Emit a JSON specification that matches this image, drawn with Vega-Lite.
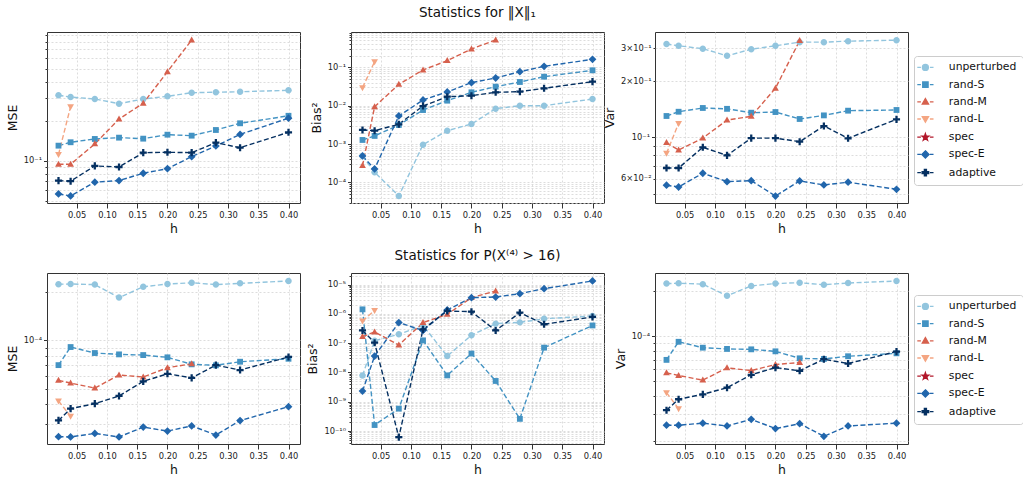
{
  "$schema": "https://vega.github.io/schema/vega-lite/v6.json",
  "padding": 5,
  "datasets": {
    "legendnames": [{"name": "unperturbed"}, {"name": "rand-S"}, {"name": "rand-M"}, {"name": "rand-L"}, {"name": "spec"}, {"name": "spec-E"}, {"name": "adaptive"}],
    "mse1": [
      {"method": "unperturbed", "h": 0.02, "value": 0.315}, {"method": "unperturbed", "h": 0.04, "value": 0.305}, {"method": "unperturbed", "h": 0.08, "value": 0.295}, {"method": "unperturbed", "h": 0.12, "value": 0.272}, {"method": "unperturbed", "h": 0.16, "value": 0.295}, {"method": "unperturbed", "h": 0.2, "value": 0.309}, {"method": "unperturbed", "h": 0.24, "value": 0.329}, {"method": "unperturbed", "h": 0.28, "value": 0.332}, {"method": "unperturbed", "h": 0.32, "value": 0.335}, {"method": "unperturbed", "h": 0.4, "value": 0.343},
      {"method": "rand-S", "h": 0.02, "value": 0.1306}, {"method": "rand-S", "h": 0.04, "value": 0.1386}, {"method": "rand-S", "h": 0.08, "value": 0.1468}, {"method": "rand-S", "h": 0.12, "value": 0.1502}, {"method": "rand-S", "h": 0.16, "value": 0.1476}, {"method": "rand-S", "h": 0.2, "value": 0.1582}, {"method": "rand-S", "h": 0.24, "value": 0.1555}, {"method": "rand-S", "h": 0.28, "value": 0.1717}, {"method": "rand-S", "h": 0.32, "value": 0.193}, {"method": "rand-S", "h": 0.4, "value": 0.22},
      {"method": "rand-M", "h": 0.02, "value": 0.0944}, {"method": "rand-M", "h": 0.04, "value": 0.0944}, {"method": "rand-M", "h": 0.08, "value": 0.1346}, {"method": "rand-M", "h": 0.12, "value": 0.208}, {"method": "rand-M", "h": 0.16, "value": 0.274}, {"method": "rand-M", "h": 0.2, "value": 0.475}, {"method": "rand-M", "h": 0.24, "value": 0.826},
      {"method": "rand-L", "h": 0.02, "value": 0.112}, {"method": "rand-L", "h": 0.04, "value": 0.258},
      {"method": "spec-E", "h": 0.02, "value": 0.0562}, {"method": "spec-E", "h": 0.04, "value": 0.0543}, {"method": "spec-E", "h": 0.08, "value": 0.069}, {"method": "spec-E", "h": 0.12, "value": 0.071}, {"method": "spec-E", "h": 0.16, "value": 0.0807}, {"method": "spec-E", "h": 0.2, "value": 0.0874}, {"method": "spec-E", "h": 0.24, "value": 0.1078}, {"method": "spec-E", "h": 0.28, "value": 0.13}, {"method": "spec-E", "h": 0.32, "value": 0.159}, {"method": "spec-E", "h": 0.4, "value": 0.211},
      {"method": "adaptive", "h": 0.02, "value": 0.071}, {"method": "adaptive", "h": 0.04, "value": 0.0702}, {"method": "adaptive", "h": 0.08, "value": 0.0917}, {"method": "adaptive", "h": 0.12, "value": 0.09}, {"method": "adaptive", "h": 0.16, "value": 0.1156}, {"method": "adaptive", "h": 0.2, "value": 0.1163}, {"method": "adaptive", "h": 0.24, "value": 0.1156}, {"method": "adaptive", "h": 0.28, "value": 0.1376}, {"method": "adaptive", "h": 0.32, "value": 0.126}, {"method": "adaptive", "h": 0.4, "value": 0.165}
    ],
    "bias1": [
      {"method": "unperturbed", "h": 0.02, "value": 0.00049}, {"method": "unperturbed", "h": 0.04, "value": 0.000184}, {"method": "unperturbed", "h": 0.08, "value": 0.0000445}, {"method": "unperturbed", "h": 0.12, "value": 0.000965}, {"method": "unperturbed", "h": 0.16, "value": 0.00223}, {"method": "unperturbed", "h": 0.2, "value": 0.00333}, {"method": "unperturbed", "h": 0.24, "value": 0.00835}, {"method": "unperturbed", "h": 0.28, "value": 0.01}, {"method": "unperturbed", "h": 0.32, "value": 0.01}, {"method": "unperturbed", "h": 0.4, "value": 0.0149},
      {"method": "rand-S", "h": 0.02, "value": 0.00128}, {"method": "rand-S", "h": 0.04, "value": 0.00163}, {"method": "rand-S", "h": 0.08, "value": 0.00314}, {"method": "rand-S", "h": 0.12, "value": 0.0077}, {"method": "rand-S", "h": 0.16, "value": 0.0135}, {"method": "rand-S", "h": 0.2, "value": 0.0223}, {"method": "rand-S", "h": 0.24, "value": 0.0313}, {"method": "rand-S", "h": 0.28, "value": 0.0414}, {"method": "rand-S", "h": 0.32, "value": 0.0569}, {"method": "rand-S", "h": 0.4, "value": 0.0835},
      {"method": "rand-M", "h": 0.02, "value": 0.000274}, {"method": "rand-M", "h": 0.04, "value": 0.0094}, {"method": "rand-M", "h": 0.08, "value": 0.036}, {"method": "rand-M", "h": 0.12, "value": 0.085}, {"method": "rand-M", "h": 0.16, "value": 0.149}, {"method": "rand-M", "h": 0.2, "value": 0.3}, {"method": "rand-M", "h": 0.24, "value": 0.514},
      {"method": "rand-L", "h": 0.02, "value": 0.0294}, {"method": "rand-L", "h": 0.04, "value": 0.14},
      {"method": "spec-E", "h": 0.02, "value": 0.00049}, {"method": "spec-E", "h": 0.04, "value": 0.000225}, {"method": "spec-E", "h": 0.08, "value": 0.0054}, {"method": "spec-E", "h": 0.12, "value": 0.0141}, {"method": "spec-E", "h": 0.16, "value": 0.0228}, {"method": "spec-E", "h": 0.2, "value": 0.0398}, {"method": "spec-E", "h": 0.24, "value": 0.0526}, {"method": "spec-E", "h": 0.28, "value": 0.077}, {"method": "spec-E", "h": 0.32, "value": 0.106}, {"method": "spec-E", "h": 0.4, "value": 0.161},
      {"method": "adaptive", "h": 0.02, "value": 0.00233}, {"method": "adaptive", "h": 0.04, "value": 0.00223}, {"method": "adaptive", "h": 0.08, "value": 0.00328}, {"method": "adaptive", "h": 0.12, "value": 0.0098}, {"method": "adaptive", "h": 0.16, "value": 0.0171}, {"method": "adaptive", "h": 0.2, "value": 0.0182}, {"method": "adaptive", "h": 0.24, "value": 0.0223}, {"method": "adaptive", "h": 0.28, "value": 0.0232}, {"method": "adaptive", "h": 0.32, "value": 0.0284}, {"method": "adaptive", "h": 0.4, "value": 0.0422}
    ],
    "var1": [
      {"method": "unperturbed", "h": 0.02, "value": 0.3155}, {"method": "unperturbed", "h": 0.04, "value": 0.309}, {"method": "unperturbed", "h": 0.08, "value": 0.298}, {"method": "unperturbed", "h": 0.12, "value": 0.273}, {"method": "unperturbed", "h": 0.16, "value": 0.296}, {"method": "unperturbed", "h": 0.2, "value": 0.309}, {"method": "unperturbed", "h": 0.24, "value": 0.323}, {"method": "unperturbed", "h": 0.28, "value": 0.323}, {"method": "unperturbed", "h": 0.32, "value": 0.327}, {"method": "unperturbed", "h": 0.4, "value": 0.331},
      {"method": "rand-S", "h": 0.02, "value": 0.13}, {"method": "rand-S", "h": 0.04, "value": 0.137}, {"method": "rand-S", "h": 0.08, "value": 0.1435}, {"method": "rand-S", "h": 0.12, "value": 0.142}, {"method": "rand-S", "h": 0.16, "value": 0.1354}, {"method": "rand-S", "h": 0.2, "value": 0.1365}, {"method": "rand-S", "h": 0.24, "value": 0.1253}, {"method": "rand-S", "h": 0.28, "value": 0.131}, {"method": "rand-S", "h": 0.32, "value": 0.1388}, {"method": "rand-S", "h": 0.4, "value": 0.14},
      {"method": "rand-M", "h": 0.02, "value": 0.0936}, {"method": "rand-M", "h": 0.04, "value": 0.0855}, {"method": "rand-M", "h": 0.08, "value": 0.099}, {"method": "rand-M", "h": 0.12, "value": 0.1237}, {"method": "rand-M", "h": 0.16, "value": 0.1295}, {"method": "rand-M", "h": 0.2, "value": 0.183}, {"method": "rand-M", "h": 0.24, "value": 0.329},
      {"method": "rand-L", "h": 0.02, "value": 0.0821}, {"method": "rand-L", "h": 0.04, "value": 0.1188},
      {"method": "spec-E", "h": 0.02, "value": 0.0554}, {"method": "spec-E", "h": 0.04, "value": 0.0542}, {"method": "spec-E", "h": 0.08, "value": 0.0642}, {"method": "spec-E", "h": 0.12, "value": 0.0579}, {"method": "spec-E", "h": 0.16, "value": 0.0586}, {"method": "spec-E", "h": 0.2, "value": 0.0485}, {"method": "spec-E", "h": 0.24, "value": 0.0584}, {"method": "spec-E", "h": 0.28, "value": 0.0556}, {"method": "spec-E", "h": 0.32, "value": 0.0575}, {"method": "spec-E", "h": 0.4, "value": 0.0527},
      {"method": "adaptive", "h": 0.02, "value": 0.0685}, {"method": "adaptive", "h": 0.04, "value": 0.0685}, {"method": "adaptive", "h": 0.08, "value": 0.0884}, {"method": "adaptive", "h": 0.12, "value": 0.08}, {"method": "adaptive", "h": 0.16, "value": 0.099}, {"method": "adaptive", "h": 0.2, "value": 0.099}, {"method": "adaptive", "h": 0.24, "value": 0.0947}, {"method": "adaptive", "h": 0.28, "value": 0.1149}, {"method": "adaptive", "h": 0.32, "value": 0.0988}, {"method": "adaptive", "h": 0.4, "value": 0.1248}
    ],
    "mse2": [
      {"method": "unperturbed", "h": 0.02, "value": 2.24e-4}, {"method": "unperturbed", "h": 0.04, "value": 2.25e-4}, {"method": "unperturbed", "h": 0.08, "value": 2.23e-4}, {"method": "unperturbed", "h": 0.12, "value": 1.85e-4}, {"method": "unperturbed", "h": 0.16, "value": 2.16e-4}, {"method": "unperturbed", "h": 0.2, "value": 2.25e-4}, {"method": "unperturbed", "h": 0.24, "value": 2.29e-4}, {"method": "unperturbed", "h": 0.28, "value": 2.23e-4}, {"method": "unperturbed", "h": 0.32, "value": 2.27e-4}, {"method": "unperturbed", "h": 0.4, "value": 2.35e-4},
      {"method": "rand-S", "h": 0.02, "value": 7.0e-5}, {"method": "rand-S", "h": 0.04, "value": 9.08e-5}, {"method": "rand-S", "h": 0.08, "value": 8.33e-5}, {"method": "rand-S", "h": 0.12, "value": 8.17e-5}, {"method": "rand-S", "h": 0.16, "value": 8.09e-5}, {"method": "rand-S", "h": 0.2, "value": 7.83e-5}, {"method": "rand-S", "h": 0.24, "value": 7.08e-5}, {"method": "rand-S", "h": 0.28, "value": 6.98e-5}, {"method": "rand-S", "h": 0.32, "value": 7.35e-5}, {"method": "rand-S", "h": 0.4, "value": 7.67e-5},
      {"method": "rand-M", "h": 0.02, "value": 5.62e-5}, {"method": "rand-M", "h": 0.04, "value": 5.41e-5}, {"method": "rand-M", "h": 0.08, "value": 5.03e-5}, {"method": "rand-M", "h": 0.12, "value": 6.07e-5}, {"method": "rand-M", "h": 0.16, "value": 5.9e-5}, {"method": "rand-M", "h": 0.2, "value": 6.74e-5}, {"method": "rand-M", "h": 0.24, "value": 7.14e-5},
      {"method": "rand-L", "h": 0.02, "value": 4.18e-5}, {"method": "rand-L", "h": 0.04, "value": 3.36e-5},
      {"method": "spec-E", "h": 0.02, "value": 2.5e-5}, {"method": "spec-E", "h": 0.04, "value": 2.49e-5}, {"method": "spec-E", "h": 0.08, "value": 2.62e-5}, {"method": "spec-E", "h": 0.12, "value": 2.49e-5}, {"method": "spec-E", "h": 0.16, "value": 2.87e-5}, {"method": "spec-E", "h": 0.2, "value": 2.71e-5}, {"method": "spec-E", "h": 0.24, "value": 2.92e-5}, {"method": "spec-E", "h": 0.28, "value": 2.56e-5}, {"method": "spec-E", "h": 0.32, "value": 3.15e-5}, {"method": "spec-E", "h": 0.4, "value": 3.85e-5},
      {"method": "adaptive", "h": 0.02, "value": 3.16e-5}, {"method": "adaptive", "h": 0.04, "value": 3.74e-5}, {"method": "adaptive", "h": 0.08, "value": 4.02e-5}, {"method": "adaptive", "h": 0.12, "value": 4.49e-5}, {"method": "adaptive", "h": 0.16, "value": 5.54e-5}, {"method": "adaptive", "h": 0.2, "value": 6.18e-5}, {"method": "adaptive", "h": 0.24, "value": 5.83e-5}, {"method": "adaptive", "h": 0.28, "value": 7.0e-5}, {"method": "adaptive", "h": 0.32, "value": 6.52e-5}, {"method": "adaptive", "h": 0.4, "value": 7.87e-5}
    ],
    "bias2": [
      {"method": "unperturbed", "h": 0.02, "value": 7.9e-9}, {"method": "unperturbed", "h": 0.04, "value": 1.2e-7}, {"method": "unperturbed", "h": 0.08, "value": 2.0e-7}, {"method": "unperturbed", "h": 0.12, "value": 4.0e-7}, {"method": "unperturbed", "h": 0.16, "value": 3.6e-8}, {"method": "unperturbed", "h": 0.2, "value": 1.85e-7}, {"method": "unperturbed", "h": 0.24, "value": 4.6e-7}, {"method": "unperturbed", "h": 0.28, "value": 5.1e-7}, {"method": "unperturbed", "h": 0.32, "value": 6.8e-7}, {"method": "unperturbed", "h": 0.4, "value": 8.4e-7},
      {"method": "rand-S", "h": 0.02, "value": 1.42e-6}, {"method": "rand-S", "h": 0.04, "value": 1.6e-10}, {"method": "rand-S", "h": 0.08, "value": 5.8e-10}, {"method": "rand-S", "h": 0.12, "value": 1.24e-7}, {"method": "rand-S", "h": 0.16, "value": 7.9e-9}, {"method": "rand-S", "h": 0.2, "value": 4.4e-8}, {"method": "rand-S", "h": 0.24, "value": 5.1e-9}, {"method": "rand-S", "h": 0.28, "value": 2.6e-10}, {"method": "rand-S", "h": 0.32, "value": 7.0e-8}, {"method": "rand-S", "h": 0.4, "value": 4.0e-7},
      {"method": "rand-M", "h": 0.02, "value": 1.66e-7}, {"method": "rand-M", "h": 0.04, "value": 2.4e-7}, {"method": "rand-M", "h": 0.08, "value": 8.6e-8}, {"method": "rand-M", "h": 0.12, "value": 5.0e-7}, {"method": "rand-M", "h": 0.16, "value": 9.6e-7}, {"method": "rand-M", "h": 0.2, "value": 3.55e-6}, {"method": "rand-M", "h": 0.24, "value": 6.0e-6},
      {"method": "rand-L", "h": 0.02, "value": 5.7e-7}, {"method": "rand-L", "h": 0.04, "value": 1.3e-6},
      {"method": "spec-E", "h": 0.02, "value": 2.3e-9}, {"method": "spec-E", "h": 0.04, "value": 3.6e-8}, {"method": "spec-E", "h": 0.08, "value": 5.0e-7}, {"method": "spec-E", "h": 0.12, "value": 2.7e-7}, {"method": "spec-E", "h": 0.16, "value": 1.35e-6}, {"method": "spec-E", "h": 0.2, "value": 3.55e-6}, {"method": "spec-E", "h": 0.24, "value": 3.74e-6}, {"method": "spec-E", "h": 0.28, "value": 4.86e-6}, {"method": "spec-E", "h": 0.32, "value": 7.2e-6}, {"method": "spec-E", "h": 0.4, "value": 1.32e-5},
      {"method": "adaptive", "h": 0.02, "value": 2.7e-7}, {"method": "adaptive", "h": 0.04, "value": 1.03e-7}, {"method": "adaptive", "h": 0.08, "value": 6.2e-11}, {"method": "adaptive", "h": 0.12, "value": 2.95e-7}, {"method": "adaptive", "h": 0.16, "value": 1.25e-6}, {"method": "adaptive", "h": 0.2, "value": 1.18e-6}, {"method": "adaptive", "h": 0.24, "value": 2.7e-7}, {"method": "adaptive", "h": 0.28, "value": 1.09e-6}, {"method": "adaptive", "h": 0.32, "value": 4.4e-7}, {"method": "adaptive", "h": 0.4, "value": 7.8e-7}
    ],
    "var2": [
      {"method": "unperturbed", "h": 0.02, "value": 2.26e-4}, {"method": "unperturbed", "h": 0.04, "value": 2.27e-4}, {"method": "unperturbed", "h": 0.08, "value": 2.24e-4}, {"method": "unperturbed", "h": 0.12, "value": 1.87e-4}, {"method": "unperturbed", "h": 0.16, "value": 2.18e-4}, {"method": "unperturbed", "h": 0.2, "value": 2.26e-4}, {"method": "unperturbed", "h": 0.24, "value": 2.29e-4}, {"method": "unperturbed", "h": 0.28, "value": 2.22e-4}, {"method": "unperturbed", "h": 0.32, "value": 2.28e-4}, {"method": "unperturbed", "h": 0.4, "value": 2.35e-4},
      {"method": "rand-S", "h": 0.02, "value": 6.96e-5}, {"method": "rand-S", "h": 0.04, "value": 9.2e-5}, {"method": "rand-S", "h": 0.08, "value": 8.4e-5}, {"method": "rand-S", "h": 0.12, "value": 8.24e-5}, {"method": "rand-S", "h": 0.16, "value": 8.19e-5}, {"method": "rand-S", "h": 0.2, "value": 7.94e-5}, {"method": "rand-S", "h": 0.24, "value": 7.13e-5}, {"method": "rand-S", "h": 0.28, "value": 7.06e-5}, {"method": "rand-S", "h": 0.32, "value": 7.36e-5}, {"method": "rand-S", "h": 0.4, "value": 7.7e-5},
      {"method": "rand-M", "h": 0.02, "value": 5.7e-5}, {"method": "rand-M", "h": 0.04, "value": 5.47e-5}, {"method": "rand-M", "h": 0.08, "value": 5.09e-5}, {"method": "rand-M", "h": 0.12, "value": 6.15e-5}, {"method": "rand-M", "h": 0.16, "value": 5.9e-5}, {"method": "rand-M", "h": 0.2, "value": 6.48e-5}, {"method": "rand-M", "h": 0.24, "value": 6.68e-5},
      {"method": "rand-L", "h": 0.02, "value": 4.2e-5}, {"method": "rand-L", "h": 0.04, "value": 3.28e-5},
      {"method": "spec-E", "h": 0.02, "value": 2.54e-5}, {"method": "spec-E", "h": 0.04, "value": 2.54e-5}, {"method": "spec-E", "h": 0.08, "value": 2.62e-5}, {"method": "spec-E", "h": 0.12, "value": 2.51e-5}, {"method": "spec-E", "h": 0.16, "value": 2.78e-5}, {"method": "spec-E", "h": 0.2, "value": 2.41e-5}, {"method": "spec-E", "h": 0.24, "value": 2.6e-5}, {"method": "spec-E", "h": 0.28, "value": 2.14e-5}, {"method": "spec-E", "h": 0.32, "value": 2.51e-5}, {"method": "spec-E", "h": 0.4, "value": 2.62e-5},
      {"method": "adaptive", "h": 0.02, "value": 3.2e-5}, {"method": "adaptive", "h": 0.04, "value": 3.79e-5}, {"method": "adaptive", "h": 0.08, "value": 4.09e-5}, {"method": "adaptive", "h": 0.12, "value": 4.53e-5}, {"method": "adaptive", "h": 0.16, "value": 5.53e-5}, {"method": "adaptive", "h": 0.2, "value": 6.18e-5}, {"method": "adaptive", "h": 0.24, "value": 5.88e-5}, {"method": "adaptive", "h": 0.28, "value": 7.03e-5}, {"method": "adaptive", "h": 0.32, "value": 6.58e-5}, {"method": "adaptive", "h": 0.4, "value": 7.91e-5}
    ]
  },
  "vconcat": [
    {
      "hconcat": [
        {
          "width": 253, "height": 171,
          "data": {"name": "mse1"},
          "encoding": {
            "x": {"field": "h", "type": "quantitative", "scale": {"domain": [0.001, 0.419], "nice": false, "zero": false}, "axis": {"title": "h", "values": [0.05, 0.1, 0.15, 0.2, 0.25, 0.3, 0.35, 0.4], "format": ".2f"}},
            "y": {"field": "value", "type": "quantitative", "scale": {"type": "log", "domain": [0.048, 0.95], "nice": false}, "axis": {"title": "MSE", "values": [0.05, 0.06, 0.07, 0.08, 0.09, 0.1, 0.2, 0.3, 0.4, 0.5, 0.6, 0.7, 0.8, 0.9], "labelExpr": "datum.value == 0.1 ? '10⁻¹' : ''", "tickSize": {"condition": {"test": "datum.value == 0.1", "value": 3.5}, "value": 2}}},
            "color": {"field": "method", "type": "nominal", "scale": {"domain": ["unperturbed", "rand-S", "rand-M", "rand-L", "spec", "spec-E", "adaptive"], "range": ["#92c5de", "#4393c3", "#d6604d", "#f4a582", "#b2182b", "#2166ac", "#053061"]}, "legend": null}
          },
          "layer": [
            {"mark": {"type": "line", "strokeDash": [5, 2.5], "strokeWidth": 1.4}},
            {"mark": {"type": "point", "filled": true, "size": 42, "opacity": 1}, "encoding": {"shape": {"field": "method", "type": "nominal", "scale": {"domain": ["unperturbed", "rand-S", "rand-M", "rand-L", "spec", "spec-E", "adaptive"], "range": ["M-1,0A1,1 0 1,0 1,0A1,1 0 1,0 -1,0Z", "M-0.9,-0.9L0.9,-0.9L0.9,0.9L-0.9,0.9Z", "M0,-1.1L1.05,0.75L-1.05,0.75Z", "M0,1.1L1.05,-0.75L-1.05,-0.75Z", "M0,-1.2L0.282,-0.388L1.141,-0.371L0.456,0.148L0.706,0.971L0,0.48L-0.706,0.971L-0.456,0.148L-1.141,-0.371L-0.282,-0.388Z", "M0,-1.2L1.2,0L0,1.2L-1.2,0Z", "M-0.35,-1.1L0.35,-1.1L0.35,-0.35L1.1,-0.35L1.1,0.35L0.35,0.35L0.35,1.1L-0.35,1.1L-0.35,0.35L-1.1,0.35L-1.1,-0.35L-0.35,-0.35Z"]}, "legend": null}}}
          ]
        },
        {
          "width": 253, "height": 171,
          "title": {"text": "Statistics for ‖X‖₁"},
          "data": {"name": "bias1"},
          "encoding": {
            "x": {"field": "h", "type": "quantitative", "scale": {"domain": [0.001, 0.419], "nice": false, "zero": false}, "axis": {"title": "h", "values": [0.05, 0.1, 0.15, 0.2, 0.25, 0.3, 0.35, 0.4], "format": ".2f"}},
            "y": {"field": "value", "type": "quantitative", "scale": {"type": "log", "domain": [2.92e-5, 0.83], "nice": false}, "axis": {"title": "Bias²", "values": [3e-5, 4e-5, 5e-5, 6e-5, 7e-5, 8e-5, 9e-5, 1e-4, 2e-4, 3e-4, 4e-4, 5e-4, 6e-4, 7e-4, 8e-4, 9e-4, 1e-3, 2e-3, 3e-3, 4e-3, 5e-3, 6e-3, 7e-3, 8e-3, 9e-3, 1e-2, 2e-2, 3e-2, 4e-2, 5e-2, 6e-2, 7e-2, 8e-2, 9e-2, 0.1, 0.2, 0.3, 0.4, 0.5, 0.6, 0.7, 0.8], "labelExpr": "datum.value == 0.1 ? '10⁻¹' : datum.value == 0.01 ? '10⁻²' : datum.value == 0.001 ? '10⁻³' : datum.value == 0.0001 ? '10⁻⁴' : ''", "tickSize": {"condition": {"test": "abs(log(datum.value)/LN10 - round(log(datum.value)/LN10)) < 0.001", "value": 3.5}, "value": 2}}},
            "color": {"field": "method", "type": "nominal", "scale": {"domain": ["unperturbed", "rand-S", "rand-M", "rand-L", "spec", "spec-E", "adaptive"], "range": ["#92c5de", "#4393c3", "#d6604d", "#f4a582", "#b2182b", "#2166ac", "#053061"]}, "legend": null}
          },
          "layer": [
            {"mark": {"type": "line", "strokeDash": [5, 2.5], "strokeWidth": 1.4}},
            {"mark": {"type": "point", "filled": true, "size": 42, "opacity": 1}, "encoding": {"shape": {"field": "method", "type": "nominal", "scale": {"domain": ["unperturbed", "rand-S", "rand-M", "rand-L", "spec", "spec-E", "adaptive"], "range": ["M-1,0A1,1 0 1,0 1,0A1,1 0 1,0 -1,0Z", "M-0.9,-0.9L0.9,-0.9L0.9,0.9L-0.9,0.9Z", "M0,-1.1L1.05,0.75L-1.05,0.75Z", "M0,1.1L1.05,-0.75L-1.05,-0.75Z", "M0,-1.2L0.282,-0.388L1.141,-0.371L0.456,0.148L0.706,0.971L0,0.48L-0.706,0.971L-0.456,0.148L-1.141,-0.371L-0.282,-0.388Z", "M0,-1.2L1.2,0L0,1.2L-1.2,0Z", "M-0.35,-1.1L0.35,-1.1L0.35,-0.35L1.1,-0.35L1.1,0.35L0.35,0.35L0.35,1.1L-0.35,1.1L-0.35,0.35L-1.1,0.35L-1.1,-0.35L-0.35,-0.35Z"]}, "legend": null}}}
          ]
        },
        {
          "width": 253, "height": 171,
          "resolve": {"scale": {"shape": "independent", "color": "independent", "fill": "independent", "stroke": "independent"}},
          "layer": [
            {
              "data": {"name": "var1"},
              "encoding": {
                "x": {"field": "h", "type": "quantitative", "scale": {"domain": [0.001, 0.419], "nice": false, "zero": false}, "axis": {"title": "h", "values": [0.05, 0.1, 0.15, 0.2, 0.25, 0.3, 0.35, 0.4], "format": ".2f"}},
                "y": {"field": "value", "type": "quantitative", "scale": {"type": "log", "domain": [0.0445, 0.366], "nice": false}, "axis": {"title": "Var", "values": [0.05, 0.06, 0.07, 0.08, 0.09, 0.1, 0.2, 0.3], "labelExpr": "datum.value == 0.1 ? '10⁻¹' : datum.value == 0.2 ? '2×10⁻¹' : datum.value == 0.3 ? '3×10⁻¹' : datum.value == 0.06 ? '6×10⁻²' : ''", "tickSize": {"condition": {"test": "datum.value == 0.1", "value": 3.5}, "value": 2}}},
                "color": {"field": "method", "type": "nominal", "scale": {"domain": ["unperturbed", "rand-S", "rand-M", "rand-L", "spec", "spec-E", "adaptive"], "range": ["#92c5de", "#4393c3", "#d6604d", "#f4a582", "#b2182b", "#2166ac", "#053061"]}, "legend": null}
              },
              "layer": [
                {"mark": {"type": "line", "strokeDash": [5, 2.5], "strokeWidth": 1.4}},
                {"mark": {"type": "point", "filled": true, "size": 42, "opacity": 1}, "encoding": {"shape": {"field": "method", "type": "nominal", "scale": {"domain": ["unperturbed", "rand-S", "rand-M", "rand-L", "spec", "spec-E", "adaptive"], "range": ["M-1,0A1,1 0 1,0 1,0A1,1 0 1,0 -1,0Z", "M-0.9,-0.9L0.9,-0.9L0.9,0.9L-0.9,0.9Z", "M0,-1.1L1.05,0.75L-1.05,0.75Z", "M0,1.1L1.05,-0.75L-1.05,-0.75Z", "M0,-1.2L0.282,-0.388L1.141,-0.371L0.456,0.148L0.706,0.971L0,0.48L-0.706,0.971L-0.456,0.148L-1.141,-0.371L-0.282,-0.388Z", "M0,-1.2L1.2,0L0,1.2L-1.2,0Z", "M-0.35,-1.1L0.35,-1.1L0.35,-0.35L1.1,-0.35L1.1,0.35L0.35,0.35L0.35,1.1L-0.35,1.1L-0.35,0.35L-1.1,0.35L-1.1,-0.35L-0.35,-0.35Z"]}, "legend": null}}}
              ]
            },
            {
              "data": {"name": "legendnames"},
              "transform": [{"filter": "false"}],
              "mark": {"type": "point", "filled": true},
              "encoding": {
                "fill": {"field": "name", "type": "nominal", "scale": {"domain": ["unperturbed", "rand-S", "rand-M", "rand-L", "spec", "spec-E", "adaptive"], "range": ["#92c5de", "#4393c3", "#d6604d", "#f4a582", "#b2182b", "#2166ac", "#053061"]}, "legend": {"title": null, "orient": "none", "legendX": 259, "legendY": 24, "symbolSize": 36, "symbolOpacity": 1, "symbolStrokeWidth": 1.3, "labelFontSize": 10.8, "labelFont": "DejaVu Sans", "labelColor": "#111111", "labelOffset": 18, "rowPadding": 5.2, "padding": 6, "strokeColor": "#cccccc", "fillColor": "#ffffff", "cornerRadius": 3}},
                "stroke": {"field": "name", "type": "nominal", "scale": {"domain": ["unperturbed", "rand-S", "rand-M", "rand-L", "spec", "spec-E", "adaptive"], "range": ["#92c5de", "#4393c3", "#d6604d", "#f4a582", "#b2182b", "#2166ac", "#053061"]}, "legend": {"title": null, "orient": "none", "legendX": 259, "legendY": 24, "symbolSize": 36, "symbolOpacity": 1, "symbolStrokeWidth": 1.3, "labelFontSize": 10.8, "labelFont": "DejaVu Sans", "labelColor": "#111111", "labelOffset": 18, "rowPadding": 5.2, "padding": 6, "strokeColor": "#cccccc", "fillColor": "#ffffff", "cornerRadius": 3}},
                "shape": {"field": "name", "type": "nominal", "scale": {"domain": ["unperturbed", "rand-S", "rand-M", "rand-L", "spec", "spec-E", "adaptive"], "range": ["M-2.7,0L-1.5,0M1.5,0L2.7,0M-1,0A1,1 0 1,0 1,0A1,1 0 1,0 -1,0Z", "M-2.7,0L-1.5,0M1.5,0L2.7,0M-0.9,-0.9L0.9,-0.9L0.9,0.9L-0.9,0.9Z", "M-2.7,0L-1.5,0M1.5,0L2.7,0M0,-1.1L1.05,0.75L-1.05,0.75Z", "M-2.7,0L-1.5,0M1.5,0L2.7,0M0,1.1L1.05,-0.75L-1.05,-0.75Z", "M-2.7,0L-1.5,0M1.5,0L2.7,0M0,-1.2L0.282,-0.388L1.141,-0.371L0.456,0.148L0.706,0.971L0,0.48L-0.706,0.971L-0.456,0.148L-1.141,-0.371L-0.282,-0.388Z", "M-2.7,0L-1.5,0M1.5,0L2.7,0M0,-1.2L1.2,0L0,1.2L-1.2,0Z", "M-2.7,0L-1.5,0M1.5,0L2.7,0M-0.35,-1.1L0.35,-1.1L0.35,-0.35L1.1,-0.35L1.1,0.35L0.35,0.35L0.35,1.1L-0.35,1.1L-0.35,0.35L-1.1,0.35L-1.1,-0.35L-0.35,-0.35Z"]}, "legend": {"title": null, "orient": "none", "legendX": 259, "legendY": 24, "symbolSize": 36, "symbolOpacity": 1, "symbolStrokeWidth": 1.3, "labelFontSize": 10.8, "labelFont": "DejaVu Sans", "labelColor": "#111111", "labelOffset": 18, "rowPadding": 5.2, "padding": 6, "strokeColor": "#cccccc", "fillColor": "#ffffff", "cornerRadius": 3}}
              }
            }
          ]
        }
      ],
      "spacing": 51,
      "bounds": "flush",
      "resolve": {"scale": {"shape": "independent", "color": "independent", "fill": "independent", "stroke": "independent"}}
    },
    {
      "hconcat": [
        {
          "width": 253, "height": 171,
          "data": {"name": "mse2"},
          "encoding": {
            "x": {"field": "h", "type": "quantitative", "scale": {"domain": [0.001, 0.419], "nice": false, "zero": false}, "axis": {"title": "h", "values": [0.05, 0.1, 0.15, 0.2, 0.25, 0.3, 0.35, 0.4], "format": ".2f"}},
            "y": {"field": "value", "type": "quantitative", "scale": {"type": "log", "domain": [2.25e-5, 2.635e-4], "nice": false}, "axis": {"title": "MSE", "values": [3e-5, 4e-5, 5e-5, 6e-5, 7e-5, 8e-5, 9e-5, 1e-4, 2e-4], "labelExpr": "datum.value == 0.0001 ? '10⁻⁴' : ''", "tickSize": {"condition": {"test": "datum.value == 0.0001", "value": 3.5}, "value": 2}}},
            "color": {"field": "method", "type": "nominal", "scale": {"domain": ["unperturbed", "rand-S", "rand-M", "rand-L", "spec", "spec-E", "adaptive"], "range": ["#92c5de", "#4393c3", "#d6604d", "#f4a582", "#b2182b", "#2166ac", "#053061"]}, "legend": null}
          },
          "layer": [
            {"mark": {"type": "line", "strokeDash": [5, 2.5], "strokeWidth": 1.4}},
            {"mark": {"type": "point", "filled": true, "size": 42, "opacity": 1}, "encoding": {"shape": {"field": "method", "type": "nominal", "scale": {"domain": ["unperturbed", "rand-S", "rand-M", "rand-L", "spec", "spec-E", "adaptive"], "range": ["M-1,0A1,1 0 1,0 1,0A1,1 0 1,0 -1,0Z", "M-0.9,-0.9L0.9,-0.9L0.9,0.9L-0.9,0.9Z", "M0,-1.1L1.05,0.75L-1.05,0.75Z", "M0,1.1L1.05,-0.75L-1.05,-0.75Z", "M0,-1.2L0.282,-0.388L1.141,-0.371L0.456,0.148L0.706,0.971L0,0.48L-0.706,0.971L-0.456,0.148L-1.141,-0.371L-0.282,-0.388Z", "M0,-1.2L1.2,0L0,1.2L-1.2,0Z", "M-0.35,-1.1L0.35,-1.1L0.35,-0.35L1.1,-0.35L1.1,0.35L0.35,0.35L0.35,1.1L-0.35,1.1L-0.35,0.35L-1.1,0.35L-1.1,-0.35L-0.35,-0.35Z"]}, "legend": null}}}
          ]
        },
        {
          "width": 253, "height": 171,
          "title": {"text": "Statistics for P(X⁽⁴⁾ > 16)"},
          "data": {"name": "bias2"},
          "encoding": {
            "x": {"field": "h", "type": "quantitative", "scale": {"domain": [0.001, 0.419], "nice": false, "zero": false}, "axis": {"title": "h", "values": [0.05, 0.1, 0.15, 0.2, 0.25, 0.3, 0.35, 0.4], "format": ".2f"}},
            "y": {"field": "value", "type": "quantitative", "scale": {"type": "log", "domain": [3.6e-11, 2.47e-5], "nice": false}, "axis": {"title": "Bias²", "values": [4e-11, 5e-11, 6e-11, 7e-11, 8e-11, 9e-11, 1e-10, 2e-10, 3e-10, 4e-10, 5e-10, 6e-10, 7e-10, 8e-10, 9e-10, 1e-9, 2e-9, 3e-9, 4e-9, 5e-9, 6e-9, 7e-9, 8e-9, 9e-9, 1e-8, 2e-8, 3e-8, 4e-8, 5e-8, 6e-8, 7e-8, 8e-8, 9e-8, 1e-7, 2e-7, 3e-7, 4e-7, 5e-7, 6e-7, 7e-7, 8e-7, 9e-7, 1e-6, 2e-6, 3e-6, 4e-6, 5e-6, 6e-6, 7e-6, 8e-6, 9e-6, 1e-5, 2e-5], "labelExpr": "datum.value == 1e-5 ? '10⁻⁵' : datum.value == 1e-6 ? '10⁻⁶' : datum.value == 1e-7 ? '10⁻⁷' : datum.value == 1e-8 ? '10⁻⁸' : datum.value == 1e-9 ? '10⁻⁹' : datum.value == 1e-10 ? '10⁻¹⁰' : ''", "tickSize": {"condition": {"test": "abs(log(datum.value)/LN10 - round(log(datum.value)/LN10)) < 0.001", "value": 3.5}, "value": 2}}},
            "color": {"field": "method", "type": "nominal", "scale": {"domain": ["unperturbed", "rand-S", "rand-M", "rand-L", "spec", "spec-E", "adaptive"], "range": ["#92c5de", "#4393c3", "#d6604d", "#f4a582", "#b2182b", "#2166ac", "#053061"]}, "legend": null}
          },
          "layer": [
            {"mark": {"type": "line", "strokeDash": [5, 2.5], "strokeWidth": 1.4}},
            {"mark": {"type": "point", "filled": true, "size": 42, "opacity": 1}, "encoding": {"shape": {"field": "method", "type": "nominal", "scale": {"domain": ["unperturbed", "rand-S", "rand-M", "rand-L", "spec", "spec-E", "adaptive"], "range": ["M-1,0A1,1 0 1,0 1,0A1,1 0 1,0 -1,0Z", "M-0.9,-0.9L0.9,-0.9L0.9,0.9L-0.9,0.9Z", "M0,-1.1L1.05,0.75L-1.05,0.75Z", "M0,1.1L1.05,-0.75L-1.05,-0.75Z", "M0,-1.2L0.282,-0.388L1.141,-0.371L0.456,0.148L0.706,0.971L0,0.48L-0.706,0.971L-0.456,0.148L-1.141,-0.371L-0.282,-0.388Z", "M0,-1.2L1.2,0L0,1.2L-1.2,0Z", "M-0.35,-1.1L0.35,-1.1L0.35,-0.35L1.1,-0.35L1.1,0.35L0.35,0.35L0.35,1.1L-0.35,1.1L-0.35,0.35L-1.1,0.35L-1.1,-0.35L-0.35,-0.35Z"]}, "legend": null}}}
          ]
        },
        {
          "width": 253, "height": 171,
          "resolve": {"scale": {"shape": "independent", "color": "independent", "fill": "independent", "stroke": "independent"}},
          "layer": [
            {
              "data": {"name": "var2"},
              "encoding": {
                "x": {"field": "h", "type": "quantitative", "scale": {"domain": [0.001, 0.419], "nice": false, "zero": false}, "axis": {"title": "h", "values": [0.05, 0.1, 0.15, 0.2, 0.25, 0.3, 0.35, 0.4], "format": ".2f"}},
                "y": {"field": "value", "type": "quantitative", "scale": {"type": "log", "domain": [1.9e-5, 2.66e-4], "nice": false}, "axis": {"title": "Var", "values": [2e-5, 3e-5, 4e-5, 5e-5, 6e-5, 7e-5, 8e-5, 9e-5, 1e-4, 2e-4], "labelExpr": "datum.value == 0.0001 ? '10⁻⁴' : ''", "tickSize": {"condition": {"test": "datum.value == 0.0001", "value": 3.5}, "value": 2}}},
                "color": {"field": "method", "type": "nominal", "scale": {"domain": ["unperturbed", "rand-S", "rand-M", "rand-L", "spec", "spec-E", "adaptive"], "range": ["#92c5de", "#4393c3", "#d6604d", "#f4a582", "#b2182b", "#2166ac", "#053061"]}, "legend": null}
              },
              "layer": [
                {"mark": {"type": "line", "strokeDash": [5, 2.5], "strokeWidth": 1.4}},
                {"mark": {"type": "point", "filled": true, "size": 42, "opacity": 1}, "encoding": {"shape": {"field": "method", "type": "nominal", "scale": {"domain": ["unperturbed", "rand-S", "rand-M", "rand-L", "spec", "spec-E", "adaptive"], "range": ["M-1,0A1,1 0 1,0 1,0A1,1 0 1,0 -1,0Z", "M-0.9,-0.9L0.9,-0.9L0.9,0.9L-0.9,0.9Z", "M0,-1.1L1.05,0.75L-1.05,0.75Z", "M0,1.1L1.05,-0.75L-1.05,-0.75Z", "M0,-1.2L0.282,-0.388L1.141,-0.371L0.456,0.148L0.706,0.971L0,0.48L-0.706,0.971L-0.456,0.148L-1.141,-0.371L-0.282,-0.388Z", "M0,-1.2L1.2,0L0,1.2L-1.2,0Z", "M-0.35,-1.1L0.35,-1.1L0.35,-0.35L1.1,-0.35L1.1,0.35L0.35,0.35L0.35,1.1L-0.35,1.1L-0.35,0.35L-1.1,0.35L-1.1,-0.35L-0.35,-0.35Z"]}, "legend": null}}}
              ]
            },
            {
              "data": {"name": "legendnames"},
              "transform": [{"filter": "false"}],
              "mark": {"type": "point", "filled": true},
              "encoding": {
                "fill": {"field": "name", "type": "nominal", "scale": {"domain": ["unperturbed", "rand-S", "rand-M", "rand-L", "spec", "spec-E", "adaptive"], "range": ["#92c5de", "#4393c3", "#d6604d", "#f4a582", "#b2182b", "#2166ac", "#053061"]}, "legend": {"title": null, "orient": "none", "legendX": 259, "legendY": 22, "symbolSize": 36, "symbolOpacity": 1, "symbolStrokeWidth": 1.3, "labelFontSize": 10.8, "labelFont": "DejaVu Sans", "labelColor": "#111111", "labelOffset": 18, "rowPadding": 5.2, "padding": 6, "strokeColor": "#cccccc", "fillColor": "#ffffff", "cornerRadius": 3}},
                "stroke": {"field": "name", "type": "nominal", "scale": {"domain": ["unperturbed", "rand-S", "rand-M", "rand-L", "spec", "spec-E", "adaptive"], "range": ["#92c5de", "#4393c3", "#d6604d", "#f4a582", "#b2182b", "#2166ac", "#053061"]}, "legend": {"title": null, "orient": "none", "legendX": 259, "legendY": 22, "symbolSize": 36, "symbolOpacity": 1, "symbolStrokeWidth": 1.3, "labelFontSize": 10.8, "labelFont": "DejaVu Sans", "labelColor": "#111111", "labelOffset": 18, "rowPadding": 5.2, "padding": 6, "strokeColor": "#cccccc", "fillColor": "#ffffff", "cornerRadius": 3}},
                "shape": {"field": "name", "type": "nominal", "scale": {"domain": ["unperturbed", "rand-S", "rand-M", "rand-L", "spec", "spec-E", "adaptive"], "range": ["M-2.7,0L-1.5,0M1.5,0L2.7,0M-1,0A1,1 0 1,0 1,0A1,1 0 1,0 -1,0Z", "M-2.7,0L-1.5,0M1.5,0L2.7,0M-0.9,-0.9L0.9,-0.9L0.9,0.9L-0.9,0.9Z", "M-2.7,0L-1.5,0M1.5,0L2.7,0M0,-1.1L1.05,0.75L-1.05,0.75Z", "M-2.7,0L-1.5,0M1.5,0L2.7,0M0,1.1L1.05,-0.75L-1.05,-0.75Z", "M-2.7,0L-1.5,0M1.5,0L2.7,0M0,-1.2L0.282,-0.388L1.141,-0.371L0.456,0.148L0.706,0.971L0,0.48L-0.706,0.971L-0.456,0.148L-1.141,-0.371L-0.282,-0.388Z", "M-2.7,0L-1.5,0M1.5,0L2.7,0M0,-1.2L1.2,0L0,1.2L-1.2,0Z", "M-2.7,0L-1.5,0M1.5,0L2.7,0M-0.35,-1.1L0.35,-1.1L0.35,-0.35L1.1,-0.35L1.1,0.35L0.35,0.35L0.35,1.1L-0.35,1.1L-0.35,0.35L-1.1,0.35L-1.1,-0.35L-0.35,-0.35Z"]}, "legend": {"title": null, "orient": "none", "legendX": 259, "legendY": 22, "symbolSize": 36, "symbolOpacity": 1, "symbolStrokeWidth": 1.3, "labelFontSize": 10.8, "labelFont": "DejaVu Sans", "labelColor": "#111111", "labelOffset": 18, "rowPadding": 5.2, "padding": 6, "strokeColor": "#cccccc", "fillColor": "#ffffff", "cornerRadius": 3}}
              }
            }
          ]
        }
      ],
      "spacing": 51,
      "bounds": "flush",
      "resolve": {"scale": {"shape": "independent", "color": "independent", "fill": "independent", "stroke": "independent"}}
    }
  ],
  "spacing": 12,
  "resolve": {"scale": {"shape": "independent", "color": "independent", "fill": "independent", "stroke": "independent"}},
  "config": {
    "font": "DejaVu Sans",
    "view": {"stroke": "#333333", "strokeWidth": 1},
    "axis": {"domain": false, "labelFont": "DejaVu Sans", "labelFontSize": 8.3, "labelColor": "#222222", "titleFont": "DejaVu Sans", "titleFontSize": 12.5, "titleFontWeight": "normal", "titleColor": "#111111", "tickColor": "#333333", "gridColor": "#d4d4d4", "gridDash": [2, 2], "gridWidth": 0.8, "labelOverlap": false, "labelFlush": false},
    "title": {"font": "DejaVu Sans", "fontSize": 13.5, "fontWeight": "normal", "color": "#111111", "offset": 8, "anchor": "middle"}
  }
}
